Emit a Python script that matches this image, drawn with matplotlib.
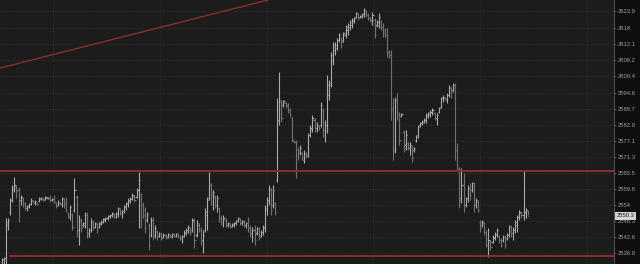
import numpy as np
import matplotlib
matplotlib.use("Agg")
import matplotlib.pyplot as plt
import matplotlib.transforms as mtransforms

# OHLC bars, left to right
opens = [
    2533.6, 2534.3, 2535.0, 2546.9, 2551.6, 2555.9, 2559.5, 2560.6, 2559.5, 2555.9,
    2556.6, 2554.8, 2553.0, 2553.4, 2554.5, 2555.5, 2554.8, 2554.8, 2555.5, 2556.3,
    2556.3, 2556.3, 2556.6, 2556.6, 2555.9, 2556.3, 2554.8, 2554.1, 2554.8, 2554.5,
    2556.3, 2554.8, 2551.2, 2549.8, 2550.9, 2552.3, 2557.0, 2545.1, 2548.0, 2546.9,
    2546.9, 2550.5, 2544.0, 2545.1, 2548.0, 2546.2, 2547.3, 2546.2, 2547.3, 2548.0,
    2548.7, 2549.4, 2550.1, 2550.5, 2550.9, 2549.8, 2550.9, 2552.6, 2551.2, 2551.9,
    2553.4, 2554.5, 2555.5, 2556.3, 2557.3, 2557.0, 2559.5, 2557.7, 2554.1, 2552.3,
    2548.7, 2546.9, 2543.3, 2548.7, 2543.3, 2544.4, 2542.9, 2543.7, 2542.6, 2543.3,
    2542.6, 2543.3, 2542.9, 2543.7, 2542.9, 2543.7, 2542.9, 2542.2, 2542.9, 2544.0,
    2545.1, 2545.8, 2545.1, 2548.0, 2543.3, 2546.9, 2545.1, 2541.5, 2545.1, 2550.5,
    2556.6, 2561.3, 2557.7, 2557.0, 2554.1, 2553.0, 2549.4, 2548.0, 2548.7, 2546.9,
    2547.3, 2546.5, 2546.9, 2547.6, 2548.7, 2549.1, 2547.6, 2548.0, 2546.9, 2547.6,
    2545.8, 2544.0, 2545.1, 2544.0, 2545.8, 2543.3, 2544.4, 2545.8, 2552.3, 2555.9,
    2559.5, 2554.1, 2554.8, 2563.2, 2584.7, 2591.2, 2590.1, 2590.8, 2590.1, 2588.3,
    2585.4, 2577.1, 2576.8, 2573.9, 2572.8, 2572.8, 2570.3, 2572.5, 2572.1, 2579.3,
    2581.1, 2584.7, 2581.8, 2582.5, 2582.9, 2588.3, 2581.1, 2582.9, 2593.7, 2597.3,
    2606.3, 2609.9, 2610.6, 2613.5, 2614.2, 2613.5, 2615.3, 2617.1, 2618.2, 2618.9,
    2620.3, 2621.8, 2622.9, 2621.8, 2622.1, 2622.9, 2623.6, 2622.5, 2621.4, 2620.7,
    2620.7, 2618.9, 2620.0, 2620.0, 2618.2, 2617.1, 2615.3, 2609.2, 2608.1, 2589.0,
    2573.9, 2591.9, 2586.5, 2586.1, 2580.4, 2575.7, 2576.4, 2574.6, 2575.0, 2573.9,
    2577.5, 2579.3, 2582.9, 2583.6, 2584.0, 2584.7, 2586.1, 2586.8, 2587.6, 2587.2,
    2585.4, 2587.6, 2589.4, 2592.6, 2592.6, 2591.9, 2593.7, 2596.2, 2595.5, 2597.3,
    2573.9, 2567.4, 2556.6, 2561.3, 2554.1, 2556.6, 2560.2, 2559.5, 2561.3, 2554.1,
    2555.2, 2548.0, 2546.9, 2547.6, 2544.4, 2539.7, 2540.8, 2540.8, 2542.2, 2543.3,
    2542.9, 2541.5, 2541.5, 2542.6, 2542.2, 2543.3, 2546.2, 2544.0, 2545.1, 2546.9,
    2549.8, 2551.2, 2550.5, 2551.6, 2551.9,
]
highs = [
    2535.1, 2535.4, 2549.4, 2549.4, 2556.6, 2561.3, 2564.2, 2561.3, 2560.6, 2557.7,
    2557.0, 2555.2, 2554.1, 2554.8, 2556.6, 2555.9, 2555.9, 2555.2, 2557.0, 2557.0,
    2556.6, 2557.3, 2557.0, 2557.7, 2556.6, 2557.7, 2555.2, 2555.9, 2555.2, 2557.0,
    2556.6, 2557.0, 2551.6, 2554.1, 2551.2, 2563.8, 2557.7, 2550.5, 2549.4, 2548.0,
    2551.6, 2551.6, 2545.8, 2549.4, 2548.7, 2548.0, 2547.6, 2548.0, 2548.7, 2549.4,
    2549.8, 2550.5, 2550.9, 2551.6, 2551.2, 2551.6, 2553.4, 2553.0, 2552.3, 2554.1,
    2555.2, 2556.6, 2557.0, 2558.4, 2557.7, 2560.2, 2566.0, 2558.4, 2555.2, 2553.4,
    2551.6, 2547.6, 2549.8, 2549.8, 2546.9, 2545.1, 2544.4, 2544.0, 2544.0, 2543.7,
    2544.0, 2543.7, 2544.0, 2544.0, 2544.0, 2544.0, 2543.3, 2543.3, 2545.1, 2545.8,
    2546.9, 2546.2, 2549.4, 2549.4, 2548.7, 2547.6, 2546.2, 2545.1, 2553.0, 2557.0,
    2566.0, 2562.0, 2559.5, 2557.7, 2557.7, 2553.4, 2550.5, 2550.5, 2549.4, 2548.0,
    2547.6, 2547.6, 2548.0, 2548.7, 2549.8, 2549.4, 2548.7, 2548.7, 2548.0, 2549.8,
    2546.9, 2546.2, 2546.9, 2546.2, 2546.2, 2545.1, 2546.9, 2554.1, 2557.0, 2561.3,
    2560.2, 2561.3, 2555.2, 2592.6, 2602.0, 2591.9, 2591.9, 2591.2, 2590.8, 2589.0,
    2585.8, 2577.5, 2577.5, 2575.0, 2575.7, 2573.2, 2573.9, 2573.2, 2580.0, 2582.9,
    2586.5, 2585.4, 2584.0, 2582.9, 2591.2, 2589.0, 2584.7, 2600.9, 2599.1, 2609.2,
    2612.8, 2612.8, 2614.2, 2616.0, 2614.6, 2616.4, 2618.9, 2619.6, 2620.7, 2621.4,
    2621.8, 2623.6, 2623.2, 2622.5, 2623.2, 2625.0, 2624.3, 2623.2, 2621.8, 2623.6,
    2621.4, 2620.7, 2623.2, 2620.7, 2619.6, 2617.8, 2617.8, 2609.9, 2609.9, 2592.6,
    2593.0, 2594.4, 2587.6, 2587.2, 2581.1, 2581.1, 2576.8, 2576.8, 2575.7, 2575.0,
    2579.3, 2582.9, 2584.0, 2584.7, 2585.4, 2587.2, 2587.6, 2588.3, 2589.0, 2587.6,
    2587.2, 2589.4, 2593.0, 2593.7, 2593.0, 2594.4, 2597.3, 2596.6, 2598.0, 2598.0,
    2576.4, 2567.8, 2567.4, 2565.6, 2557.0, 2561.3, 2562.0, 2562.4, 2562.4, 2556.6,
    2555.9, 2548.7, 2548.7, 2548.0, 2545.1, 2545.8, 2541.5, 2543.3, 2544.4, 2545.8,
    2543.3, 2542.2, 2543.3, 2543.3, 2544.0, 2546.9, 2546.9, 2546.2, 2548.7, 2550.5,
    2552.3, 2551.6, 2566.7, 2553.0, 2552.3,
]
lows = [
    2532.1, 2532.1, 2532.1, 2545.1, 2550.5, 2555.2, 2558.8, 2556.6, 2548.0, 2554.1,
    2553.4, 2552.3, 2551.9, 2553.0, 2554.1, 2554.8, 2554.1, 2554.1, 2555.2, 2555.9,
    2555.5, 2555.9, 2556.3, 2555.2, 2555.5, 2554.8, 2553.0, 2553.7, 2554.1, 2553.4,
    2553.0, 2551.6, 2549.4, 2548.7, 2545.1, 2551.6, 2542.6, 2539.7, 2544.4, 2546.2,
    2545.8, 2542.2, 2542.6, 2544.4, 2545.1, 2545.8, 2544.0, 2545.8, 2546.9, 2547.6,
    2548.0, 2548.7, 2549.4, 2549.8, 2549.4, 2549.4, 2549.8, 2550.5, 2549.4, 2551.2,
    2552.3, 2553.4, 2554.8, 2555.9, 2555.2, 2556.6, 2545.8, 2545.8, 2549.4, 2544.0,
    2548.0, 2537.9, 2542.6, 2541.5, 2542.2, 2541.5, 2542.6, 2541.5, 2542.2, 2541.9,
    2542.2, 2542.2, 2542.2, 2542.6, 2542.6, 2542.2, 2541.5, 2540.4, 2542.6, 2543.3,
    2544.0, 2543.3, 2544.4, 2538.6, 2542.6, 2544.4, 2539.7, 2536.8, 2544.4, 2545.1,
    2555.9, 2554.1, 2552.3, 2553.0, 2551.6, 2548.0, 2546.9, 2546.2, 2546.2, 2546.2,
    2545.8, 2546.2, 2546.2, 2546.9, 2548.0, 2546.9, 2546.9, 2546.2, 2545.8, 2544.4,
    2542.6, 2540.8, 2539.7, 2543.3, 2541.5, 2542.6, 2543.3, 2544.4, 2550.5, 2554.1,
    2550.5, 2553.0, 2550.5, 2562.4, 2582.9, 2584.0, 2589.4, 2589.0, 2587.2, 2585.8,
    2576.8, 2576.4, 2563.8, 2570.3, 2572.1, 2570.3, 2569.2, 2571.0, 2571.4, 2578.6,
    2580.4, 2580.4, 2580.4, 2581.1, 2582.2, 2578.6, 2576.8, 2580.0, 2591.9, 2596.6,
    2604.5, 2608.1, 2609.9, 2612.8, 2610.6, 2612.8, 2614.2, 2615.3, 2617.1, 2617.8,
    2619.6, 2621.4, 2620.7, 2621.4, 2621.4, 2621.8, 2621.8, 2620.7, 2620.0, 2618.9,
    2614.2, 2618.2, 2617.8, 2617.1, 2614.6, 2614.6, 2607.4, 2607.0, 2584.7, 2570.3,
    2572.8, 2584.7, 2575.7, 2585.8, 2573.2, 2573.9, 2573.9, 2572.1, 2569.6, 2573.2,
    2576.8, 2578.2, 2582.2, 2582.9, 2583.6, 2583.6, 2585.4, 2585.8, 2586.5, 2584.7,
    2582.9, 2587.2, 2589.0, 2591.2, 2591.9, 2590.8, 2593.0, 2592.6, 2594.8, 2570.3,
    2566.7, 2553.0, 2554.8, 2551.6, 2553.4, 2555.2, 2555.9, 2558.8, 2551.6, 2553.0,
    2551.6, 2544.4, 2546.2, 2543.3, 2539.0, 2535.4, 2537.9, 2540.4, 2541.5, 2542.6,
    2540.4, 2539.0, 2540.8, 2538.6, 2541.5, 2542.6, 2542.6, 2541.5, 2544.0, 2544.4,
    2548.7, 2549.4, 2548.7, 2549.4, 2550.5,
]
closes = [
    2534.7, 2535.0, 2548.0, 2548.7, 2555.9, 2560.2, 2561.3, 2559.5, 2555.9, 2557.0,
    2554.1, 2553.0, 2553.7, 2554.5, 2555.9, 2555.2, 2555.5, 2554.5, 2556.6, 2556.6,
    2555.9, 2557.0, 2556.6, 2555.9, 2556.3, 2555.2, 2553.7, 2555.2, 2554.5, 2556.6,
    2554.1, 2552.3, 2550.1, 2553.4, 2546.2, 2559.5, 2545.1, 2548.7, 2545.8, 2547.6,
    2550.5, 2544.0, 2545.1, 2548.0, 2546.2, 2547.6, 2545.1, 2547.6, 2548.0, 2549.1,
    2549.4, 2550.1, 2550.5, 2551.2, 2549.8, 2551.2, 2553.0, 2551.2, 2551.9, 2553.7,
    2554.8, 2555.9, 2556.3, 2557.7, 2555.9, 2559.5, 2563.2, 2554.1, 2550.5, 2545.8,
    2550.9, 2539.7, 2548.7, 2542.6, 2545.8, 2542.6, 2544.0, 2542.2, 2543.3, 2542.6,
    2543.7, 2542.9, 2543.7, 2542.9, 2543.7, 2542.6, 2542.2, 2542.9, 2544.4, 2545.1,
    2546.2, 2544.4, 2548.7, 2541.5, 2547.6, 2545.1, 2541.5, 2543.3, 2551.6, 2555.9,
    2561.3, 2557.7, 2558.8, 2554.1, 2556.6, 2549.4, 2548.0, 2549.4, 2546.9, 2547.6,
    2546.2, 2547.3, 2547.6, 2548.4, 2549.4, 2547.6, 2548.4, 2546.9, 2547.6, 2545.8,
    2544.0, 2545.1, 2541.5, 2545.8, 2542.6, 2544.4, 2546.2, 2553.0, 2555.9, 2560.2,
    2552.3, 2559.5, 2551.6, 2591.2, 2591.9, 2585.4, 2591.5, 2589.7, 2588.3, 2586.5,
    2577.5, 2576.8, 2572.1, 2571.4, 2574.6, 2571.0, 2572.8, 2571.8, 2579.3, 2581.8,
    2585.4, 2581.8, 2582.9, 2581.8, 2590.1, 2581.1, 2582.9, 2597.3, 2598.0, 2608.1,
    2611.7, 2611.7, 2613.5, 2615.3, 2612.8, 2616.0, 2618.2, 2618.9, 2620.0, 2620.7,
    2621.4, 2623.2, 2621.4, 2622.1, 2622.9, 2624.3, 2622.5, 2621.4, 2620.7, 2622.5,
    2615.3, 2620.0, 2621.8, 2618.2, 2616.0, 2615.3, 2609.2, 2608.1, 2588.3, 2573.9,
    2591.9, 2587.6, 2577.5, 2586.8, 2574.6, 2579.3, 2574.6, 2575.7, 2571.0, 2574.6,
    2578.6, 2582.2, 2583.6, 2584.0, 2584.7, 2586.5, 2587.2, 2587.6, 2588.3, 2585.4,
    2586.5, 2589.0, 2592.6, 2593.0, 2592.2, 2593.7, 2596.6, 2594.8, 2597.3, 2573.9,
    2568.5, 2555.9, 2561.3, 2554.1, 2556.6, 2560.2, 2557.7, 2562.0, 2554.1, 2555.9,
    2552.3, 2545.8, 2548.0, 2544.4, 2539.7, 2541.5, 2539.0, 2542.6, 2543.7, 2545.1,
    2541.5, 2539.7, 2542.6, 2539.7, 2543.3, 2546.2, 2544.0, 2545.1, 2548.0, 2549.8,
    2551.6, 2550.5, 2551.6, 2552.3, 2550.3,
]

# right-hand price scale
ytick_vals = [2623.9, 2618, 2612.1, 2606.2, 2600.4, 2594.6, 2588.7, 2582.9,
              2577.1, 2571.3, 2565.5, 2559.8, 2554, 2548.3, 2542.6, 2536.9]
ytick_labels = ['2623.9', '2618', '2612.1', '2606.2', '2600.4', '2594.6', '2588.7', '2582.9',
                '2577.1', '2571.3', '2565.5', '2559.8', '2554', '2548.3', '2542.6', '2536.9']
last_price = 2550.3

# drawn levels
resistance = 2566.3
support = 2535.8
trend_p1 = (-1, 2603.4)
trend_p2 = (128.5, 2627.9)

o = np.array(opens); h = np.array(highs); l = np.array(lows); c = np.array(closes)
x = np.arange(len(c))
up = c >= o

fig = plt.figure(figsize=(6.4, 2.64), dpi=100, facecolor='#0e0e0e')
ax = fig.add_axes([0, 0, 614 / 640, 1])
ax.set_facecolor('#1c1c1c')

# grid
for v in ytick_vals:
    ax.axhline(v, color='#383838', lw=0.6, ls=(0, (1, 2)), zorder=0)
for gx in [24.6, 76.3, 128.0, 179.2, 231.0, 282.6]:
    ax.axvline(gx, color='#383838', lw=0.6, ls=(0, (1, 2)), zorder=0)

tk = 0.55
for mask, col in [(up, '#ababab'), (~up, '#727272')]:
    ax.vlines(x[mask], l[mask], h[mask], color=col, lw=0.8, zorder=2)
    ax.hlines(o[mask], x[mask] - tk, x[mask], color=col, lw=0.8, zorder=2)
    ax.hlines(c[mask], x[mask], x[mask] + tk, color=col, lw=0.8, zorder=2)

# levels and trend line
ax.axhline(resistance, color='#8e2b2b', lw=1.4, zorder=3)
ax.hlines(support, 3.4, 400, color='#8e2b2b', lw=1.4, zorder=3)
ax.axline(trend_p1, trend_p2, color='#9a2e2e', lw=0.9, zorder=3)

ax.set_xlim(-0.97, 295.7)
ax.set_ylim(2532.9, 2627.9)

ax.yaxis.tick_right()
ax.set_yticks(ytick_vals)
ax.set_yticklabels(ytick_labels, family='Liberation Sans')
ax.tick_params(axis='y', colors='#666666', labelcolor='#a0a0a0', labelsize=4.2,
               length=1.5, width=0.6, pad=1)
ax.set_xticks([])
for s in ['top', 'left', 'bottom']:
    ax.spines[s].set_visible(False)
ax.spines['right'].set_color('#505050')
ax.spines['right'].set_linewidth(0.8)

trans = mtransforms.blended_transform_factory(ax.transAxes, ax.transData)
ax.text(1.004, last_price, f'{last_price}', transform=trans, fontsize=4.2,
        family='Liberation Sans', color='#1a1a1a', va='center', ha='left',
        clip_on=False, zorder=5,
        bbox=dict(boxstyle='square,pad=0.25', fc='#d4d4d4', ec='none'))

fig.savefig('out.png', dpi=100, facecolor=fig.get_facecolor())
